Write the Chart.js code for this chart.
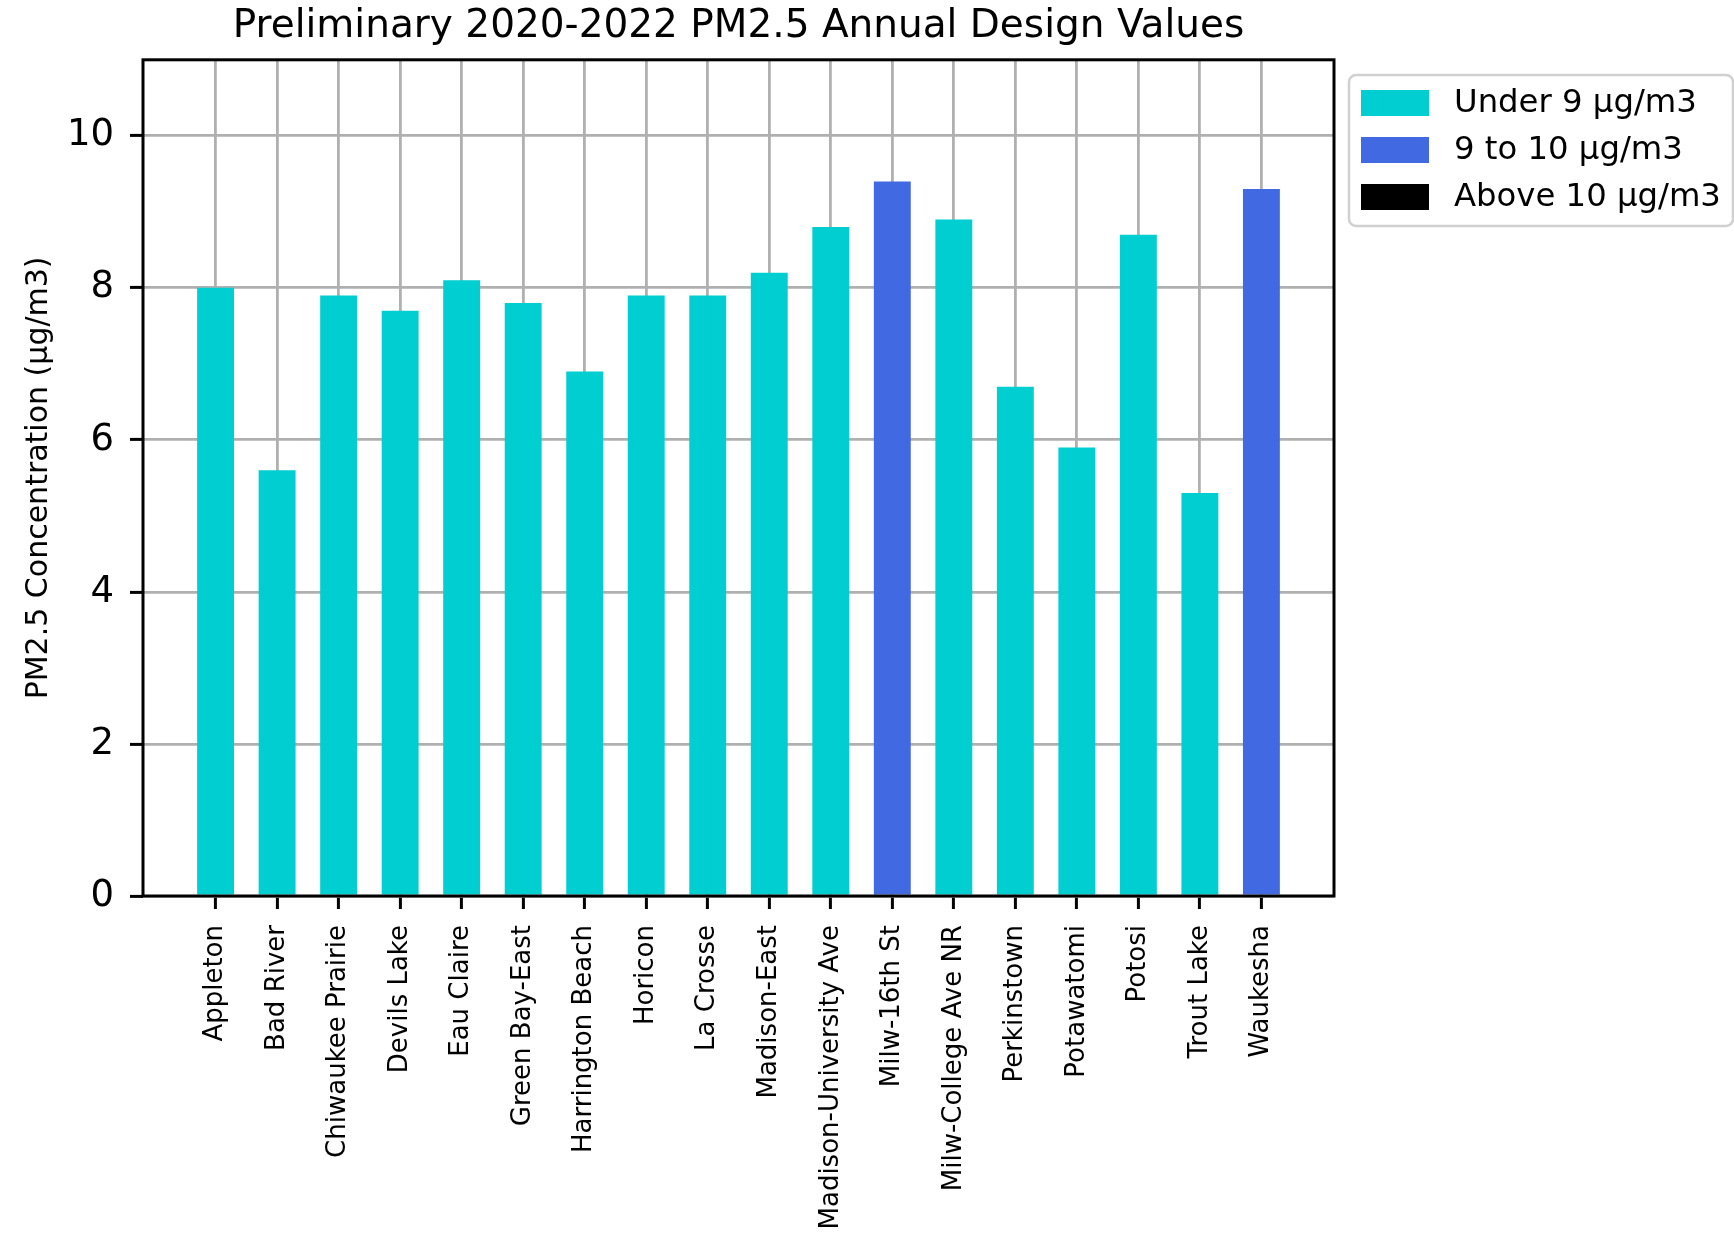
<!DOCTYPE html>
<html>
<head>
<meta charset="utf-8">
<script src="https://cdn.jsdelivr.net/npm/chart.js@4.4.1/dist/chart.umd.min.js"></script>
<style>
  html, body { margin: 0; padding: 0; background: #ffffff; }
  #wrap { width: 1734px; height: 1233px; }
</style>
</head>
<body>
<div id="wrap"><canvas id="pm25-chart" width="1734" height="1233"></canvas></div>
<script>
// Sites et valeurs
const sites = [
    "Appleton", "Bad River", "Chiwaukee Prairie", "Devils Lake", "Eau Claire",
    "Green Bay-East", "Harrington Beach", "Horicon", "La Crosse", "Madison-East",
    "Madison-University Ave", "Milw-16th St", "Milw-College Ave NR", "Perkinstown",
    "Potawatomi", "Potosi", "Trout Lake", "Waukesha"
];
const designValues = [8.0, 5.6, 7.9, 7.7, 8.1, 7.8, 6.9, 7.9, 7.9, 8.2, 8.8, 9.4, 8.9, 6.7, 5.9, 8.7, 5.3, 9.3];
const yTicks = [0, 2, 4, 6, 8, 10];

// Légende (classes de concentration)
const legendLabels = ["Under 9 \u00b5g/m3", "9 to 10 \u00b5g/m3", "Above 10 \u00b5g/m3"];
const legendColors = ["#00CED1", "#4169E1", "#000000"];

function couleurBarre(v) {
    if (v > 10) return legendColors[2];
    if (v >= 9) return legendColors[1];
    return legendColors[0];
}

const FONT = "'DejaVu Sans', sans-serif";

// Cadre noir autour de la zone du graphique + légende dessinée à la main
const cadrePlugin = {
    id: "cadre",
    afterDatasetsDraw(chart) {
        const { ctx, chartArea: a } = chart;
        ctx.save();
        ctx.strokeStyle = "#000000";
        ctx.lineWidth = 3;
        ctx.strokeRect(a.left, a.top, a.right - a.left, a.bottom - a.top);
        ctx.restore();
    },
    afterDraw(chart) {
        const ctx = chart.ctx;
        const a = chart.chartArea;
        const x0 = a.right + 15, y0 = 75, w = 384, h = 151, r = 7;
        ctx.save();
        ctx.beginPath();
        ctx.moveTo(x0 + r, y0);
        ctx.arcTo(x0 + w, y0, x0 + w, y0 + h, r);
        ctx.arcTo(x0 + w, y0 + h, x0, y0 + h, r);
        ctx.arcTo(x0, y0 + h, x0, y0, r);
        ctx.arcTo(x0, y0, x0 + w, y0, r);
        ctx.closePath();
        ctx.fillStyle = "rgba(255,255,255,0.8)";
        ctx.fill();
        ctx.strokeStyle = "#d0d0d0";
        ctx.lineWidth = 2.5;
        ctx.stroke();

        ctx.font = "32.3px " + FONT;
        ctx.textBaseline = "middle";
        ctx.textAlign = "left";
        legendLabels.forEach((lab, i) => {
            const cy = 103 + i * 47;
            ctx.fillStyle = legendColors[i];
            ctx.fillRect(x0 + 12, cy - 13, 68, 26);
            ctx.fillStyle = "#000000";
            ctx.fillText(lab, x0 + 105, cy + 1);
        });
        ctx.restore();
    }
};

const ctx = document.getElementById("pm25-chart").getContext("2d");

new Chart(ctx, {
    type: "bar",
    data: {
        datasets: [{
            label: "PM2.5",
            data: designValues.map((v, i) => ({ x: i, y: v })),
            backgroundColor: designValues.map(couleurBarre),
            borderWidth: 0,
            barPercentage: 0.6,
            categoryPercentage: 1.0,
        }],
    },
    options: {
        responsive: false,
        animation: false,
        devicePixelRatio: 1,
        layout: { padding: { left: 0, right: 400, top: 0, bottom: 0 } },
        plugins: {
            legend: { display: false },
            tooltip: { enabled: false },
            title: {
                display: true,
                text: "Preliminary 2020-2022 PM2.5 Annual Design Values",
                fullSize: false,
                color: "#000000",
                font: { family: FONT, size: 39, weight: "normal" },
                padding: { top: 3, bottom: 10 },
            },
        },
        scales: {
            x: {
                type: "linear",
                min: -1.18,
                max: 18.18,
                offset: false,
                afterBuildTicks: (scale) => {
                    scale.ticks = sites.map((s, i) => ({ value: i }));
                },
                afterFit: (scale) => { scale.height = 337; },
                ticks: {
                    autoSkip: false,
                    maxRotation: 90,
                    minRotation: 90,
                    padding: 16,
                    color: "#000000",
                    font: { family: FONT, size: 26 },
                    callback: (value) => sites[value],
                },
                grid: {
                    offset: false,
                    color: "#b0b0b0",
                    lineWidth: 2.8,
                    tickColor: "#000000",
                    tickWidth: 3,
                    tickLength: 13,
                },
                border: { display: false },
            },
            y: {
                min: 0,
                max: 11,
                afterBuildTicks: (scale) => {
                    scale.ticks = yTicks.map(v => ({ value: v }));
                },
                afterFit: (scale) => { scale.width = 143; },
                ticks: {
                    padding: 16,
                    color: "#000000",
                    font: { family: FONT, size: 37 },
                },
                grid: {
                    color: "#b0b0b0",
                    lineWidth: 2.8,
                    tickColor: "#000000",
                    tickWidth: 3,
                    tickLength: 13,
                },
                border: { display: false },
                title: {
                    display: true,
                    text: "PM2.5 Concentration (\u00b5g/m3)",
                    color: "#000000",
                    font: { family: FONT, size: 30 },
                    padding: { top: 21, bottom: 0 },
                },
            },
        },
    },
    plugins: [cadrePlugin],
});
</script>
</body>
</html>
